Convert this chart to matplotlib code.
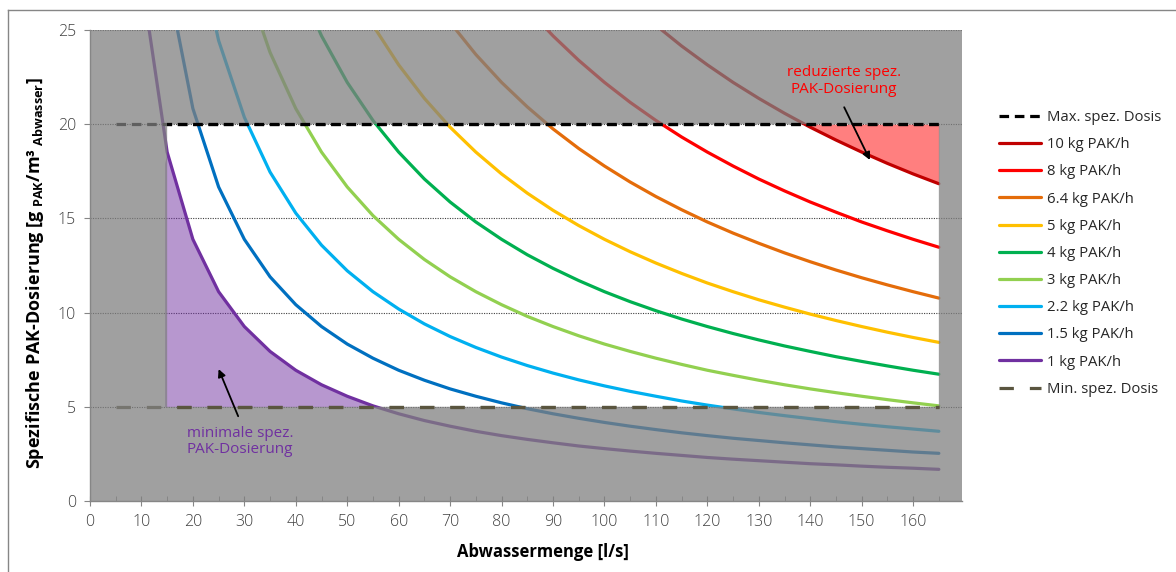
import matplotlib
matplotlib.use("Agg")
import matplotlib.pyplot as plt
import numpy as np
from matplotlib.patches import Rectangle, PathPatch
from matplotlib.path import Path
from matplotlib.lines import Line2D

plt.rcParams['font.family'] = ['Open Sans', 'DejaVu Sans']
plt.rcParams['mathtext.fontset'] = 'custom'
plt.rcParams['mathtext.rm'] = 'Open Sans'
plt.rcParams['mathtext.bf'] = 'Open Sans:bold'

# ---------------- data ----------------
flow = [10, 15, 20, 25, 30, 35, 40, 45, 50, 55, 60, 65, 70, 75, 80, 85, 90, 95,
        100, 105, 110, 115, 120, 125, 130, 135, 140, 145, 150, 155, 160, 165]

dose_1kg = [27.78, 18.52, 13.89, 11.11, 9.26, 7.94, 6.94, 6.17, 5.56, 5.05, 4.63, 4.27, 3.97,
            3.70, 3.47, 3.27, 3.09, 2.92, 2.78, 2.65, 2.53, 2.42, 2.31, 2.22, 2.14, 2.06, 1.98,
            1.92, 1.85, 1.79, 1.74, 1.68]
dose_1_5kg = [27.78, 20.83, 16.67, 13.89, 11.90, 10.42, 9.26, 8.33, 7.58, 6.94, 6.41, 5.95,
              5.56, 5.21, 4.90, 4.63, 4.39, 4.17, 3.97, 3.79, 3.62, 3.47, 3.33, 3.21, 3.09,
              2.98, 2.87, 2.78, 2.69, 2.60, 2.53]
dose_2_2kg = [30.56, 24.44, 20.37, 17.46, 15.28, 13.58, 12.22, 11.11, 10.19, 9.40, 8.73, 8.15,
              7.64, 7.19, 6.79, 6.43, 6.11, 5.82, 5.56, 5.31, 5.09, 4.89, 4.70, 4.53, 4.37,
              4.21, 4.07, 3.94, 3.82, 3.70]
dose_3kg = [27.78, 23.81, 20.83, 18.52, 16.67, 15.15, 13.89, 12.82, 11.90, 11.11, 10.42, 9.80,
            9.26, 8.77, 8.33, 7.94, 7.58, 7.25, 6.94, 6.67, 6.41, 6.17, 5.95, 5.75, 5.56, 5.38,
            5.21, 5.05]
dose_4kg = [27.78, 24.69, 22.22, 20.20, 18.52, 17.09, 15.87, 14.81, 13.89, 13.07, 12.35, 11.70,
            11.11, 10.58, 10.10, 9.66, 9.26, 8.89, 8.55, 8.23, 7.94, 7.66, 7.41, 7.17, 6.94, 6.73]
dose_5kg = [27.78, 25.25, 23.15, 21.37, 19.84, 18.52, 17.36, 16.34, 15.43, 14.62, 13.89, 13.23,
            12.63, 12.08, 11.57, 11.11, 10.68, 10.29, 9.92, 9.58, 9.26, 8.96, 8.68, 8.42]
dose_6_4kg = [27.35, 25.40, 23.70, 22.22, 20.92, 19.75, 18.71, 17.78, 16.93, 16.16, 15.46,
              14.81, 14.22, 13.68, 13.17, 12.70, 12.26, 11.85, 11.47, 11.11, 10.77]
dose_8kg = [27.78, 26.14, 24.69, 23.39, 22.22, 21.16, 20.20, 19.32, 18.52, 17.78, 17.09, 16.46,
            15.87, 15.33, 14.81, 14.34, 13.89, 13.47]
dose_10kg = [27.78, 26.46, 25.25, 24.15, 23.15, 22.22, 21.37, 20.58, 19.84, 19.16, 18.52, 17.92,
             17.36, 16.84]

series_labels = ["10 kg PAK/h", "8 kg PAK/h", "6.4 kg PAK/h", "5 kg PAK/h", "4 kg PAK/h",
                 "3 kg PAK/h", "2.2 kg PAK/h", "1.5 kg PAK/h", "1 kg PAK/h"]
series_values = [dose_10kg, dose_8kg, dose_6_4kg, dose_5kg, dose_4kg, dose_3kg,
                 dose_2_2kg, dose_1_5kg, dose_1kg]
series_colors = ["#C00000", "#FF0000", "#E46C0A", "#FFC000", "#00B050", "#92D050",
                 "#00B0F0", "#0070C0", "#7030A0"]

max_dose = 20
min_dose = 5
dose_line_x = [5, 165]
flow_min, flow_max = 15, 165

x_ticks = list(range(0, 161, 10))
y_ticks = [0, 5, 10, 15, 20, 25]

XMAX, YMAX = 169.5, 25

# ---------------- figure ----------------
fig = plt.figure(figsize=(11.76, 5.72), dpi=100)
ax = fig.add_axes([90 / 1176, 1 - 501 / 572, 872 / 1176, 471 / 572])
ax.set_xlim(0, XMAX)
ax.set_ylim(0, YMAX)

# grid
for yv in y_ticks[1:]:
    ax.axhline(yv, color="#404040", lw=0.8, ls=(0, (1, 1.2)), zorder=1)

# curves
handles = []
for lab, vals, col in zip(series_labels, series_values, series_colors):
    xs = flow[len(flow) - len(vals):]
    h, = ax.plot(xs, vals, color=col, lw=2.3, zorder=3, label=lab,
                 solid_capstyle='round', solid_joinstyle='round')
    handles.append(h)

# shaded areas
x1 = np.array(flow, dtype=float)
y1 = np.array(dose_1kg, dtype=float)
sel = x1 >= flow_min
xf = np.concatenate([[flow_min - 0.5], x1[sel]])
yf = np.concatenate([[y1[sel][0] - 0.6], y1[sel]])
ax.fill_between(xf, yf, min_dose, where=(yf >= min_dose), interpolate=True,
                color="#7030A0", alpha=0.5, lw=0, zorder=2)
x10 = np.array(flow[len(flow) - len(dose_10kg):], dtype=float)
y10 = np.array(dose_10kg, dtype=float)
ax.fill_between(x10, y10, max_dose, where=(y10 <= max_dose), interpolate=True,
                color="#FF0000", alpha=0.5, lw=0, zorder=2)

# grey overlay outside the admissible window (one path with a hole -> no seams)
verts = [(0, 0), (XMAX, 0), (XMAX, YMAX), (0, YMAX), (0, 0),
         (flow_min, min_dose), (flow_min, max_dose), (flow_max, max_dose),
         (flow_max, min_dose), (flow_min, min_dose)]
codes = [Path.MOVETO, Path.LINETO, Path.LINETO, Path.LINETO, Path.CLOSEPOLY,
         Path.MOVETO, Path.LINETO, Path.LINETO, Path.LINETO, Path.CLOSEPOLY]
ax.add_patch(PathPatch(Path(verts, codes), facecolor="#808080", alpha=0.75, lw=0,
                       zorder=4, snap=False))

# dose limit lines: under the overlay left of 15 l/s, on top of it inside
clip = Rectangle((flow_min, -1), XMAX, YMAX + 2, transform=ax.transData)
h_max = None
h_min = None
for z, clipped in [(3.5, False), (4.5, True)]:
    lmax, = ax.plot(dose_line_x, [max_dose, max_dose], color="black", lw=2.3,
                    ls=(0, (3.0, 1.8)), zorder=z, label="Max. spez. Dosis")
    lmin, = ax.plot(dose_line_x, [min_dose, min_dose], color="#5a553f", lw=2.3,
                    ls=(0, (4.5, 5)), zorder=z, label="Min. spez. Dosis")
    if clipped:
        lmax.set_clip_path(clip)
        lmin.set_clip_path(clip)
        h_max, h_min = lmax, lmin

# annotations
ax.text(146.5, 22.3, "reduzierte spez.\nPAK-Dosierung", color="#FF0000", fontsize=11,
        ha="center", va="center", linespacing=1.15, zorder=6)
ax.annotate("", xy=(151.6, 18.1), xytext=(146.6, 20.9),
            arrowprops=dict(arrowstyle="-|>", color="black", lw=1.3, mutation_scale=11,
                            shrinkA=0, shrinkB=0), zorder=6)
ax.text(29.2, 3.15, "minimale spez.\nPAK-Dosierung", color="#7030A0", fontsize=11,
        ha="center", va="center", linespacing=1.15, zorder=6)
ax.annotate("", xy=(25.0, 7.0), xytext=(28.8, 4.5),
            arrowprops=dict(arrowstyle="-|>", color="black", lw=1.3, mutation_scale=11,
                            shrinkA=0, shrinkB=0), zorder=6)

# axes styling
for s in ["top", "right"]:
    ax.spines[s].set_visible(False)
for s in ["left", "bottom"]:
    ax.spines[s].set_color("#868686")
    ax.spines[s].set_linewidth(1.0)
ax.spines["left"].set_zorder(7)
ax.spines["bottom"].set_zorder(7)
ax.set_xticks(x_ticks)
ax.set_xticks(list(range(5, 170, 10)), minor=True)
ax.set_yticks(y_ticks)
ax.tick_params(axis="x", which="major", direction="inout", length=7, color="#868686",
               labelsize=11.5, labelcolor="#404040", pad=6)
ax.tick_params(axis="x", which="minor", direction="in", length=3.5, color="#868686")
ax.tick_params(axis="y", which="major", direction="out", length=4, color="#868686",
               labelsize=11.5, labelcolor="#404040", pad=6)
for lab in ax.get_xticklabels() + ax.get_yticklabels():
    lab.set_fontweight("light")

fig.text(543 / 1176, 1 - 552 / 572, "Abwassermenge [l/s]", fontsize=12, fontweight="bold",
         ha="center", va="center")
fig.text(35 / 1176, 1 - 273 / 572,
         r"Spezifische PAK-Dosierung [g$\mathbf{_{\ PAK}}$/m³$\mathbf{_{\ Abwasser}}$]",
         fontsize=13, fontweight="bold", rotation=90, ha="center", va="center")

# legend
leg_handles = [h_max] + handles + [h_min]
leg = fig.legend(handles=leg_handles, labels=[h.get_label() for h in leg_handles],
                 loc="upper left", bbox_to_anchor=(999 / 1176, 1 - 110 / 572),
                 frameon=False, fontsize=10.7, handlelength=2.8, handletextpad=0.4,
                 labelspacing=0.82, borderaxespad=0, borderpad=0)
for t in leg.get_texts():
    t.set_color("#262626")

# chart border
fig.add_artist(Line2D([8 / 1176, 8 / 1176], [0, 1 - 10 / 572], transform=fig.transFigure,
                      color="#868686", lw=1.0))
fig.add_artist(Line2D([8 / 1176, 1], [1 - 10 / 572, 1 - 10 / 572], transform=fig.transFigure,
                      color="#868686", lw=1.0))

fig.savefig("out.png", dpi=100)
